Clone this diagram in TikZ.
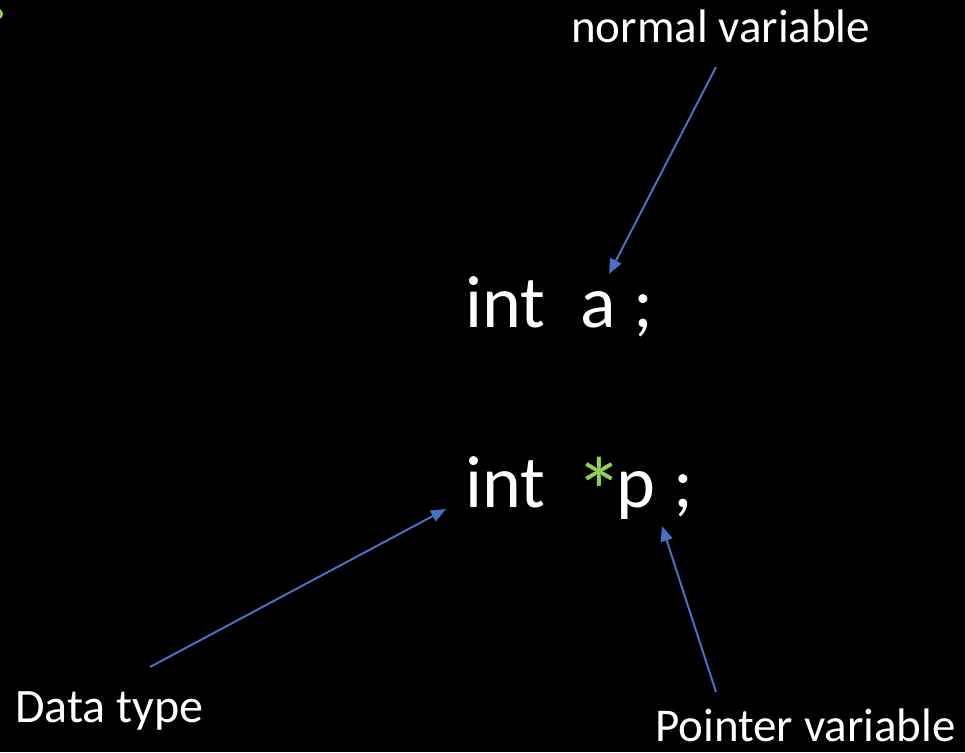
\documentclass[tikz,border=0pt]{standalone}
\usepackage{fontspec}
\setmainfont{Carlito}
\usetikzlibrary{arrows.meta}
\definecolor{arrowblue}{HTML}{4472C4}
\definecolor{stargreen}{HTML}{92D050}
\tikzset{
  codetext/.style={text=white, anchor=base west, inner sep=0pt, font=\fontsize{74}{88}\selectfont},
  labeltext/.style={text=white, anchor=base west, inner sep=0pt, font=\fontsize{47}{56}\selectfont},
  pointer/.style={draw=arrowblue, line width=2pt, -{Triangle[length=15pt,width=12pt]}}
}
\begin{document}
\begin{tikzpicture}[x=1pt,y=-1pt]
\fill[black] (0,0) rectangle (965,752);
\useasboundingbox (0,0) rectangle (965,752);
\fill[stargreen] (0,9) .. controls (4,12) and (4,16) .. (0,19) -- cycle;
% code lines
\node[codetext] (int1) at (465,327) {int};
\node[codetext] (a) at (580,327) {a};
\node[codetext] (semi1) at (633,327) {;};
\node[codetext] (int2) at (465,507) {int};
\node[codetext, text=stargreen, scale=1.3] (star) at (575,525) {*};
\node[codetext] (p) at (616,507) {p};
\node[codetext] (semi2) at (673,507) {;};
% labels
\node[labeltext] (normal) at (571,43) {normal variable};
\node[labeltext, font=\fontsize{48}{58}\selectfont] (dtype) at (15,722) {Data type};
\node[labeltext] (pvar) at (655,741) {Pointer variable};
% arrow ends
\coordinate (n1) at (716,67);
\coordinate (n2) at (609,274);
\coordinate (d1) at (150,667);
\coordinate (d2) at (446,509);
\coordinate (v1) at (716,692);
\coordinate (v2) at (662,526);
\draw[pointer] (n1) -- (n2);
\draw[pointer] (d1) -- (d2);
\draw[pointer] (v1) -- (v2);
\end{tikzpicture}
\end{document}
